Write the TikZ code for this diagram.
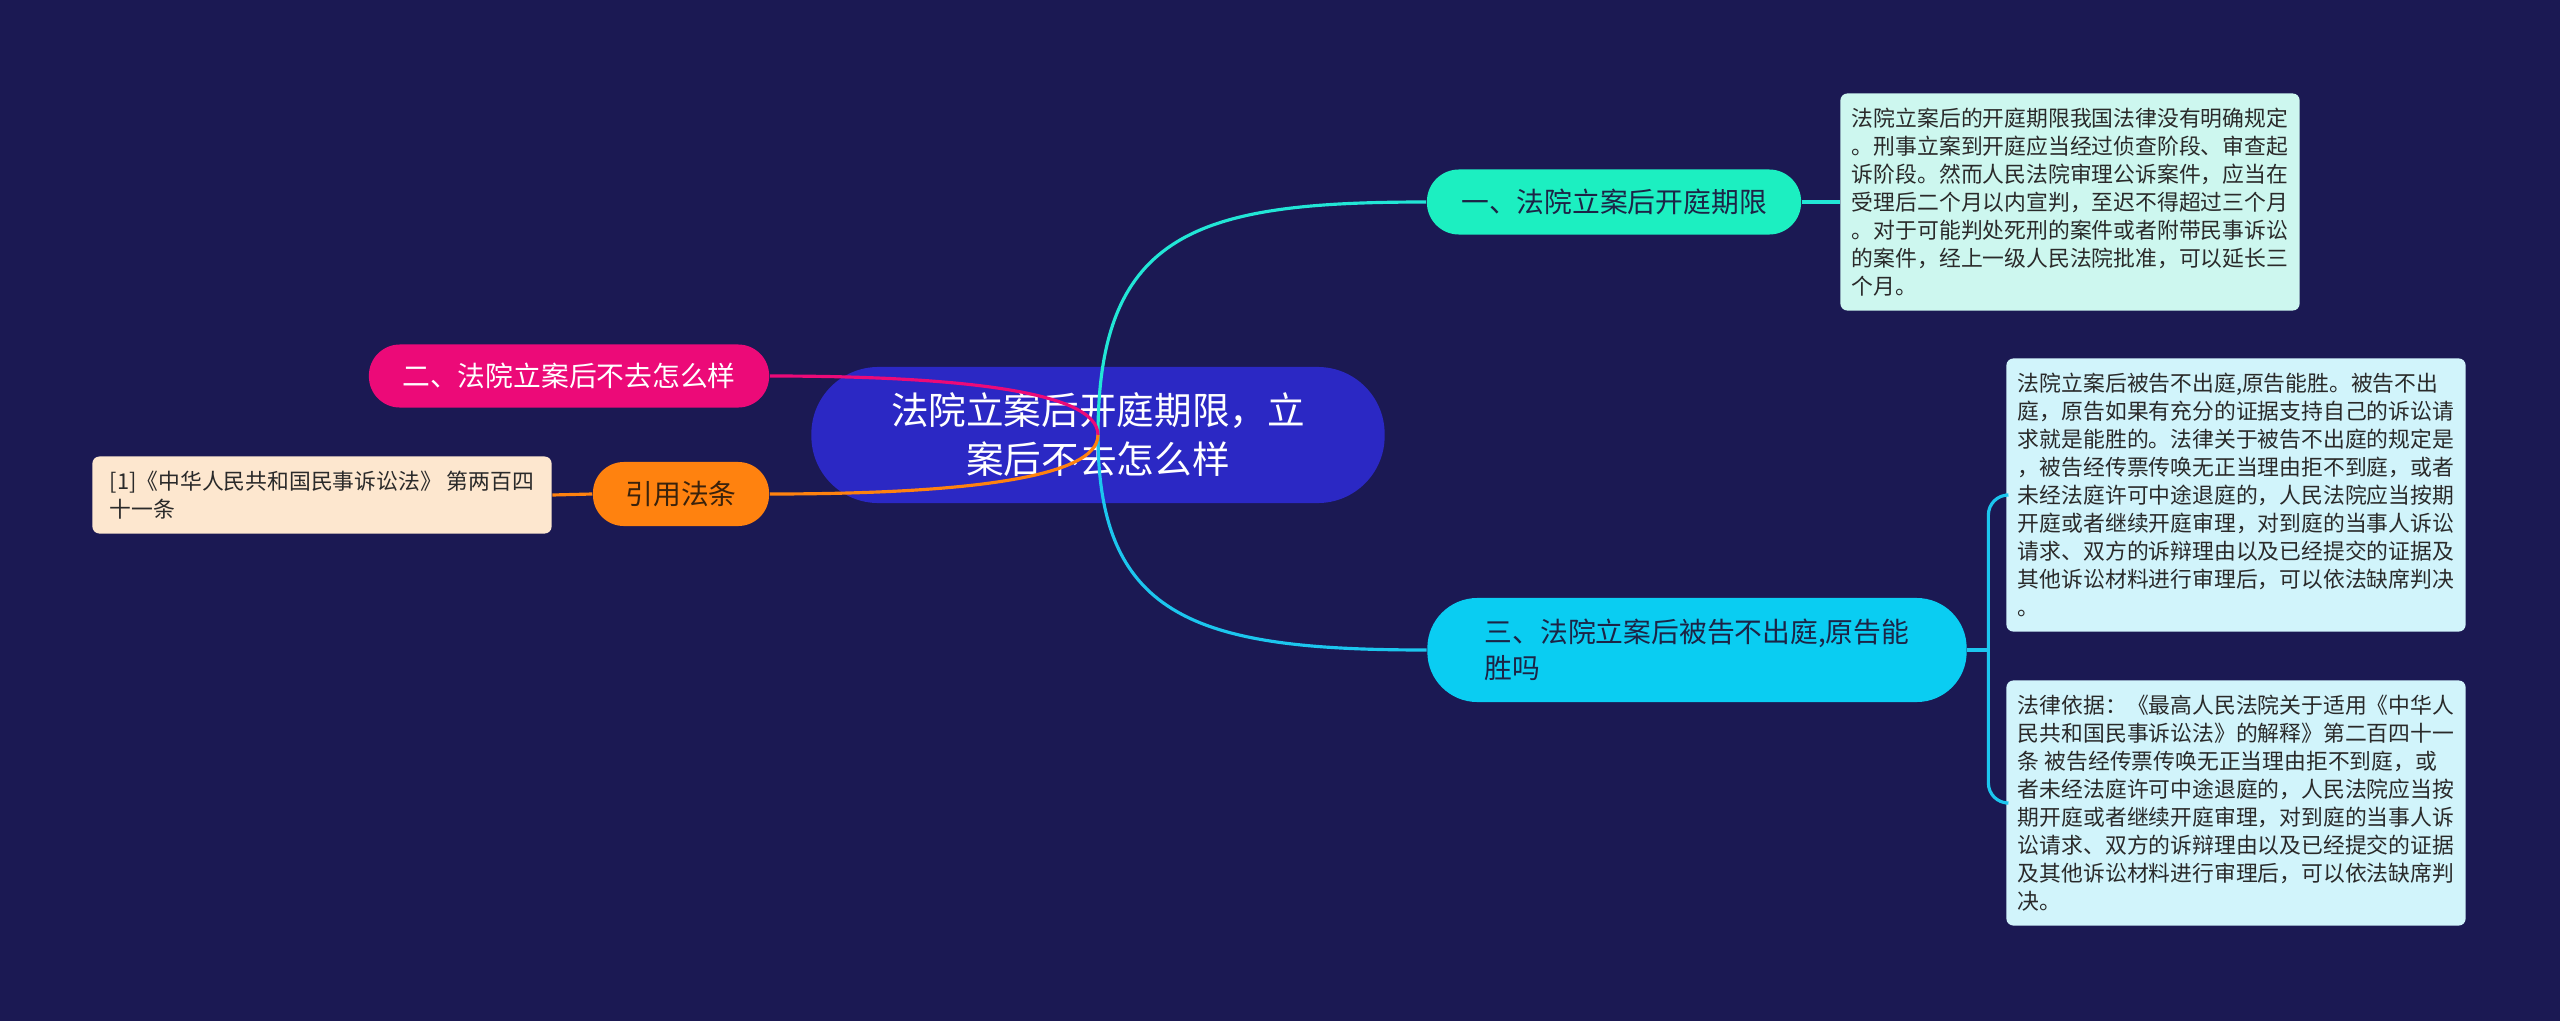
\documentclass[tikz,border=0pt]{standalone}
\usepackage{fontspec}
\setmainfont{Noto Sans CJK SC}
\definecolor{bgnavy}{HTML}{1B1953}
\definecolor{rootblue}{HTML}{2B28C4}
\definecolor{mintgreen}{HTML}{1CEFC1}
\definecolor{skyblue}{HTML}{0ACDF2}
\definecolor{hotpink}{HTML}{EC0A78}
\definecolor{tangerine}{HTML}{FF820F}
\definecolor{mintpale}{HTML}{CDF7EF}
\definecolor{skypale}{HTML}{D1F4FB}
\definecolor{peachpale}{HTML}{FDE7CF}
\definecolor{inkgray}{HTML}{2A2A2A}
\definecolor{inknavy}{HTML}{1C2446}
\definecolor{inkbrown}{HTML}{3A220C}
\definecolor{cyanlink}{HTML}{22E6D6}
\definecolor{skylink}{HTML}{1CC6EE}
\newcommand\rootfont{\fontsize{10.7pt}{13.9pt}\selectfont}
\newcommand\branchfont{\fontsize{7.9pt}{10.2pt}\selectfont}
\newcommand\leaffont{\fontsize{6.2pt}{7.95pt}\selectfont}
\tikzset{
  branch/.style={rectangle, inner sep=0pt, font=\branchfont, text=inknavy},
  leaf/.style={rectangle, rounded corners=0.07cm, inner sep=0pt, font=\leaffont,
    text=inkgray, align=left, minimum width=4.59cm},
  link/.style={line width=0.9pt},
}

\begin{document}
\begin{tikzpicture}[x=0.01cm, y=-0.01cm]
		%%%%% START %%%%%
		
		\fill[bgnavy] (0, 0) rectangle (2560, 1021);
		\useasboundingbox (0, 0) rectangle (2560, 1021);
		
		% centre
		\node[rectangle, rounded corners=0.67cm, fill=rootblue, text=white, font=\rootfont,
			align=center, minimum width=5.73cm, minimum height=1.36cm] (root) at (1098, 435)
			{法院立案后开庭期限，立\\案后不去怎么样};
		
		% right side
		\node[branch, fill=mintgreen, rounded corners=0.32cm, minimum width=3.74cm,
			minimum height=0.65cm] (limit) at (1614, 202) {一、法院立案后开庭期限};
		\node[branch, fill=skyblue, rounded corners=0.5cm, align=left, minimum width=5.39cm,
			minimum height=1.04cm] (absent) at (1697, 650)
			{三、法院立案后被告不出庭,原告能\\胜吗};
		
		\node[leaf, fill=mintpale, minimum height=2.17cm] (limittext) at (2070, 202)
			{法院立案后的开庭期限我国法律没有明确规定\\
			。刑事立案到开庭应当经过侦查阶段、审查起\\
			诉阶段。然而人民法院审理公诉案件，应当在\\
			受理后二个月以内宣判，至迟不得超过三个月\\
			。对于可能判处死刑的案件或者附带民事诉讼\\
			的案件，经上一级人民法院批准，可以延长三\\
			个月。};
		\node[leaf, fill=skypale, minimum height=2.73cm] (absenttext) at (2236, 495)
			{法院立案后被告不出庭,原告能胜。被告不出\\
			庭，原告如果有充分的证据支持自己的诉讼请\\
			求就是能胜的。法律关于被告不出庭的规定是\\
			，被告经传票传唤无正当理由拒不到庭，或者\\
			未经法庭许可中途退庭的，人民法院应当按期\\
			开庭或者继续开庭审理，对到庭的当事人诉讼\\
			请求、双方的诉辩理由以及已经提交的证据及\\
			其他诉讼材料进行审理后，可以依法缺席判决\\
			。};
		\node[leaf, fill=skypale, minimum height=2.45cm] (lawtext) at (2236, 803)
			{法律依据：《最高人民法院关于适用《中华人\\
			民共和国民事诉讼法》的解释》第二百四十一\\
			条 被告经传票传唤无正当理由拒不到庭，或\\
			者未经法庭许可中途退庭的，人民法院应当按\\
			期开庭或者继续开庭审理，对到庭的当事人诉\\
			讼请求、双方的诉辩理由以及已经提交的证据\\
			及其他诉讼材料进行审理后，可以依法缺席判\\
			决。};
		
		% left side
		\node[branch, fill=hotpink, text=white, rounded corners=0.31cm, minimum width=4.0cm,
			minimum height=0.63cm] (notgo) at (569, 376) {二、法院立案后不去怎么样};
		\node[branch, fill=tangerine, text=inkbrown, rounded corners=0.31cm, minimum width=1.76cm,
			minimum height=0.64cm] (cite) at (681, 494) {引用法条};
		\node[leaf, fill=peachpale, minimum height=0.77cm] (citetext) at (322, 495)
			{[1]《中华人民共和国民事诉讼法》 第两百四\\十一条};
		
		% links
		\draw[link, cyanlink] (root.center) .. controls (1098, 230) and (1200, 202) .. (limit.west);
		\draw[link, skylink] (root.center) .. controls (1098, 620) and (1200, 650) .. (absent.west);
		\draw[link, hotpink] (root.center) .. controls (1098, 390) and (950, 376) .. (notgo.east);
		\draw[link, tangerine] (root.center) .. controls (1098, 480) and (950, 494) .. (cite.east);
		
		\draw[link, cyanlink] (limit.east) -- (limittext.west);
		\draw[link, tangerine] (cite.west) -- (citetext.east);
		
		\draw[link, skylink] (absent.east) -- ++(21, 0) coordinate (fork);
		\draw[link, skylink, rounded corners=0.2cm] (fork) |- (absenttext.west);
		\draw[link, skylink, rounded corners=0.2cm] (fork) |- (lawtext.west);
		
		%%%%% END %%%%%
	\end{tikzpicture}
\end{document}
